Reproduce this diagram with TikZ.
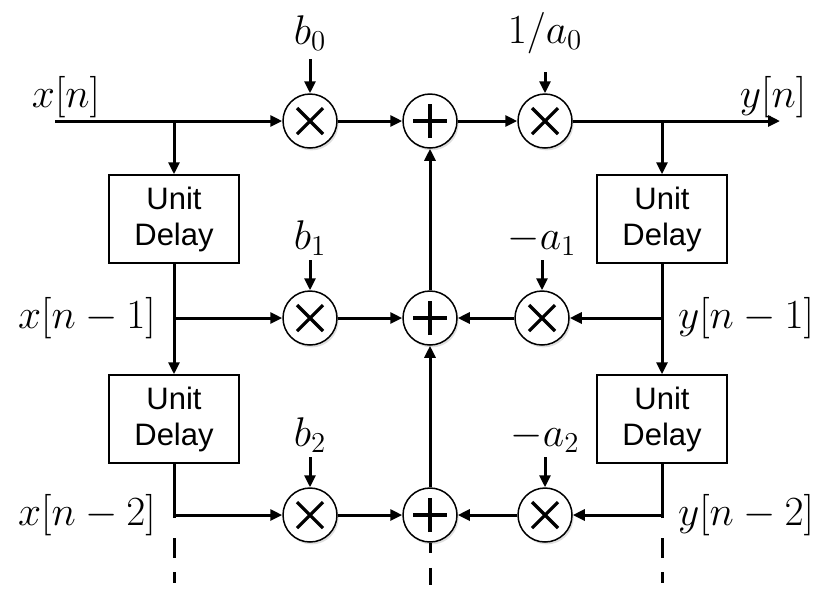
\documentclass[tikz,border=0pt]{standalone}
\usepackage{fontspec}
\setsansfont{Liberation Sans}
\usetikzlibrary{positioning,arrows.meta,shadows}

\begin{document}
\begin{tikzpicture}[x=0.5pt,y=-0.5pt]

% Stiler
\tikzstyle{wire}	=	[line width=1.5pt]
\tikzstyle{sig}	=	[wire, -{Triangle[length=6pt,width=5.5pt]}]
\tikzstyle{delay}	=	[rectangle, draw, line width=0.75pt, fill=white, minimum width=65pt, minimum height=44pt, align=center, font=\sffamily\fontsize{15.5}{18}\selectfont]
\tikzstyle{op}	=	[circle, draw, line width=0.75pt, fill=white, minimum size=27pt, inner sep=0pt, drop shadow={shadow xshift=0.8pt, shadow yshift=-1.2pt, opacity=0.25}]
\tikzstyle{mult}	=	[op, path picture={\draw[line width=1.6pt] ([shift={(-6.5pt,-6.5pt)}]path picture bounding box.center) -- ([shift={(6.5pt,6.5pt)}]path picture bounding box.center) ([shift={(-6.5pt,6.5pt)}]path picture bounding box.center) -- ([shift={(6.5pt,-6.5pt)}]path picture bounding box.center);}]
\tikzstyle{add}	=	[op, path picture={\draw[line width=2pt] ([xshift=-8.5pt]path picture bounding box.center) -- ([xshift=8.5pt]path picture bounding box.center) ([yshift=-8.5pt]path picture bounding box.center) -- ([yshift=8.5pt]path picture bounding box.center);}]
\tikzstyle{coef}	=	[inner sep=0pt, font=\fontsize{22}{26}\selectfont]
\tikzstyle{tail}	=	[wire, dash pattern=on 1.5pt off 10pt on 10pt off 7pt on 5.5pt]

	\useasboundingbox (0,0) rectangle (834,602);

	% Multiplikatorer og summer
	\node[mult]	(m0)	at (310,121)	{};
	\node[mult]	(m1)	at (310,318)	{};
	\node[mult]	(m2)	at (310,515)	{};
	\node[add]	(s0)	at (430,121)	{};
	\node[add]	(s1)	at (430,318)	{};
	\node[add]	(s2)	at (430,515)	{};
	\node[mult]	(g0)	at (545,121)	{};
	\node[mult]	(g1)	at (542,318)	{};
	\node[mult]	(g2)	at (545,515)	{};

	% Forsinkelser
	\node[delay]	(dx1)	at (174,219)	{Unit\\Delay};
	\node[delay]	(dx2)	at (174,419)	{Unit\\Delay};
	\node[delay]	(dy1)	at (662,219)	{Unit\\Delay};
	\node[delay]	(dy2)	at (662,419)	{Unit\\Delay};

	% Punkter
	\coordinate (xin)	at (55,121);
	\coordinate (tx0)	at (174,121);
	\coordinate (tx1)	at (174,318);
	\coordinate (tx2)	at (174,515);
	\coordinate (ex2)	at (174,583);
	\coordinate (ty0)	at (662,121);
	\coordinate (ty1)	at (662,318);
	\coordinate (ty2)	at (662,515);
	\coordinate (ey2)	at (662,583);
	\coordinate (yout)	at (780,121);
	\coordinate (es2)	at (430,585);

	% Signalnavn
	\node[coef]	(xn)	at (66,97)	{$x[n]$};
	\node[coef]	(xn1)	at (87,318)	{$x[n-1]$};
	\node[coef]	(xn2)	at (87,515)	{$x[n-2]$};
	\node[coef]	(yn)	at (773,97)	{$y[n]$};
	\node[coef]	(yn1)	at (746,318)	{$y[n-1]$};
	\node[coef]	(yn2)	at (746,515)	{$y[n-2]$};

	% Koeffisienter
	\node[coef]	(b0)	[above=21pt of m0]	{$b_0$};
	\node[coef]	(b1)	[above=17pt of m1]	{$b_1$};
	\node[coef]	(b2)	[above=17pt of m2]	{$b_2$};
	\node[coef]	(ia0)	[above=19.5pt of g0]	{$1/a_0$};
	\node[coef]	(na1)	[above=17pt of g1]	{$-a_1$};
	\node[coef]	(na2)	[above=17pt of g2]	{$-a_2$};
	\draw[sig, shorten <=4pt] (b0) -- (m0);
	\draw[sig, shorten <=9pt] (ia0) -- (g0);
	\foreach \c/\m in {b1/m1,b2/m2,na1/g1,na2/g2}
		\draw[sig, shorten <=2pt] (\c) -- (\m);

	% Fremover
	\draw[sig] (xin) -- (m0);
	\draw[sig] (tx0) -- (dx1);
	\draw[sig] (dx1) -- (dx2);
	\draw[wire] (dx2) -- (tx2);
	\draw[tail] (tx2) -- (ex2);
	\draw[sig] (tx1) -- (m1);
	\draw[sig] (tx2) -- (m2);
	\draw[sig] (m0) -- (s0);
	\draw[sig] (m1) -- (s1);
	\draw[sig] (m2) -- (s2);

	% Summering
	\draw[sig] (s2) -- (s1);
	\draw[sig] (s1) -- (s0);
	\draw[wire, dash pattern=on 5pt off 7.5pt on 9pt] (s2) -- (es2);

	% Tilbake
	\draw[sig] (s0) -- (g0);
	\draw[sig] (g0) -- (yout);
	\draw[sig] (ty0) -- (dy1);
	\draw[sig] (dy1) -- (dy2);
	\draw[wire] (dy2) -- (ty2);
	\draw[tail] (ty2) -- (ey2);
	\draw[sig] (ty1) -- (g1);
	\draw[sig] (ty2) -- (g2);
	\draw[sig] (g1) -- (s1);
	\draw[sig] (g2) -- (s2);

\end{tikzpicture}
\end{document}
